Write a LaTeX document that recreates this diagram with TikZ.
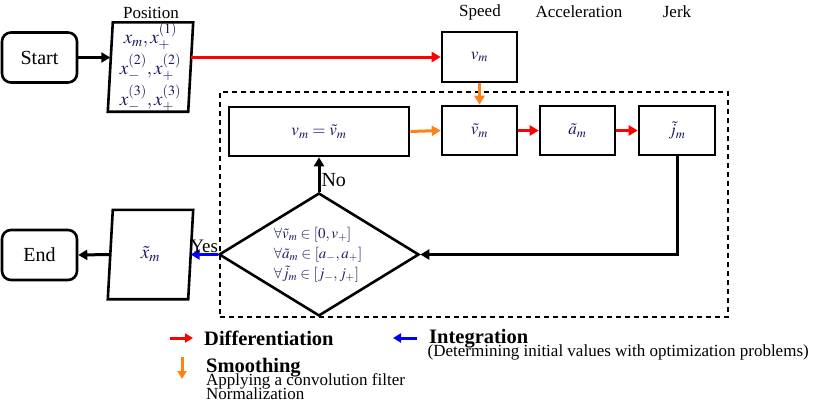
\documentclass[tikz,border=0pt]{standalone}
\usepackage{mathptmx}
\usepackage{fontspec}
\setmainfont{Liberation Serif}
\usetikzlibrary{arrows.meta,shapes.geometric,calc}
\definecolor{mathc}{RGB}{25,25,95}
\definecolor{orng}{RGB}{255,130,20}
\definecolor{redc}{RGB}{255,0,0}
\definecolor{bluec}{RGB}{0,0,255}
\begin{document}
\begin{tikzpicture}[x=1pt,y=-1pt,
  boxline/.style={line width=2.6pt, line join=miter},
  termbox/.style={draw, line width=2.6pt, rounded corners=9pt, minimum width=75pt, minimum height=50pt, inner sep=0pt, font=\fontsize{20}{24}\selectfont},
  procbox/.style={draw, line width=2.6pt, minimum height=49pt, inner sep=0pt, font=\fontsize{17}{20}\selectfont\color{mathc}},
  slantbox/.style={draw=none, minimum width=80pt, minimum height=89pt, inner sep=0pt, font=\fontsize{19}{31}\selectfont\color{mathc}, align=center},
  title/.style={font=\fontsize{17}{20}\selectfont, inner sep=0pt},
  blk/.style={line width=3pt, -{Triangle[length=9pt,width=10pt]}},
  redarr/.style={line width=3pt, redc, -{Triangle[length=9pt,width=10pt]}},
  orarr/.style={line width=3pt, orng, -{Triangle[length=9pt,width=10pt]}},
  bluarr/.style={line width=3pt, bluec, -{Triangle[length=9pt,width=10pt]}},
  legbold/.style={font=\fontsize{20.5}{22}\selectfont\bfseries, inner sep=0pt, anchor=base west},
  legtext/.style={font=\fontsize{17}{14}\selectfont, inner sep=0pt, anchor=base west},
  groupbox/.style={draw, line width=1.3pt, dash pattern=on 5pt off 4pt, inner sep=0pt}
]
\useasboundingbox (0,0) rectangle (818,407);

% group box
\node[groupbox, minimum width=508pt, minimum height=225pt] (grp) at (474,204.5) {};

% titles
\node[title] (tpos) at (151,13) {Position};
\node[title] (tspd) at (480,12) {Speed};
\node[title] (tacc) at (579,12) {Acceleration};
\node[title] (tjrk) at (677,12) {Jerk};

% terminal boxes
\node[termbox] (start) at (39.5,57.5) {Start};
\node[termbox] (endn) at (39.5,255) {End};

% position box
\node[slantbox] (pos) at (150.5,67) {$x_m, x_+^{(1)}$\\ $x_-^{(2)}, x_+^{(2)}$\\ $x_-^{(3)}, x_+^{(3)}$};
\draw[boxline] ([xshift=2.5pt]pos.north west) -- ([xshift=2.5pt]pos.north east) -- ([xshift=-2.5pt]pos.south east) -- ([xshift=-2.5pt]pos.south west) -- cycle;

% x tilde box
\node[slantbox] (xt) at (150.5,254.5) {$\tilde{x}_m$};
\draw[boxline] ([xshift=2.5pt]xt.north west) -- ([xshift=2.5pt]xt.north east) -- ([xshift=-2.5pt]xt.south east) -- ([xshift=-2.5pt]xt.south west) -- cycle;

% process boxes
\node[procbox, minimum width=75pt, minimum height=50pt] (vm) at (479.5,57) {$v_m$};
\node[procbox, minimum width=75pt] (vt) at (479.5,130.5) {$\tilde{v}_m$};
\node[procbox, minimum width=75pt] (at) at (577.5,130.5) {$\tilde{a}_m$};
\node[procbox, minimum width=76pt] (jt) at (677,130.5) {$\tilde{j}_m$};
\node[procbox, minimum width=180pt] (eq) at (319,131.5) {$v_m = \tilde{v}_m$};

% decision
\node[draw, diamond, line width=2.6pt, minimum width=200pt, minimum height=123pt, inner sep=0pt] (dec) at (319,254.5) {};
\node[font=\fontsize{15}{20}\selectfont\color{mathc}, align=left, inner sep=0pt] (dectext) at (318,254.5)
  {$\forall\tilde{v}_m \in [0, v_+]$\\ $\forall\tilde{a}_m \in [a_-, a_+]$\\ $\forall\tilde{j}_m \in [j_-, j_+]$};

% connectors
\draw[blk] (start.east) -- (start.east -| pos.west);
\draw[redarr] (pos.east |- vm.west) -- (vm.west);
\draw[orarr] (vm.south) -- (vt.north);
\draw[orarr] (eq.east) -- (vt.west);
\draw[redarr] (vt.east) -- (at.west);
\draw[redarr] (at.east) -- (jt.west);
\draw[blk] (jt.south) |- (dec.east);
\draw[blk] (dec.north) -- (eq.south) node[pos=0.35, right, inner sep=1pt, text=black, font=\fontsize{20}{24}\selectfont] (nolbl) {No};
\draw[bluarr] (dec.west) -- (xt.east) node[midway, above, inner sep=0.5pt, text=black, font=\fontsize{19}{22}\selectfont] (yeslbl) {Yes};
\draw[blk] (xt.west) -- (endn.east);

% legend
\coordinate (l1a) at (170,338); \coordinate (l1b) at (193,338);
\draw[redarr, -{Triangle[length=8pt,width=9pt]}] (l1a) -- (l1b);
\node[legbold] (ldiff) at (204,345.5) {Differentiation};

\coordinate (l2a) at (417,338); \coordinate (l2b) at (393,338);
\draw[bluarr, -{Triangle[length=8pt,width=9pt]}] (l2a) -- (l2b);
\node[legbold] (lint) at (429,343) {Integration};
\node[legtext] (ldet) at (427.5,356) {(Determining initial values with optimization problems)};

\coordinate (l3a) at (182,357); \coordinate (l3b) at (182,379);
\draw[orarr, -{Triangle[length=8pt,width=9pt]}] (l3a) -- (l3b);
\node[legbold] (lsmo) at (206,372) {Smoothing};
\node[legtext] (lapp) at (206,385) {Applying a convolution filter};
\node[legtext] (lnor) at (206,399) {Normalization};
\end{tikzpicture}
\end{document}
